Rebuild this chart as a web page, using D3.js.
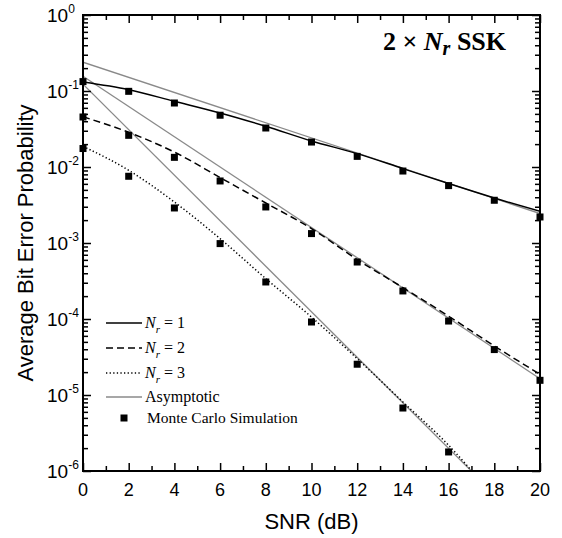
<!DOCTYPE html>
<html><head><meta charset="utf-8">
<script src="https://cdn.jsdelivr.net/npm/d3@7"></script>
<style>
html,body{margin:0;padding:0;background:#fff;}
svg{display:block;}
</style></head><body>
<script>
// SNR grid (dB) for the Monte Carlo points and the analytical curves
const snrMarks = [0, 2, 4, 6, 8, 10, 12, 14, 16, 18, 20];
const curveSnr = [0, 2, 4, 6, 8, 10, 12, 14, 16, 18, 20];
const asymSnr = [0, 20];

// Monte Carlo simulation results
const simNr1 = [0.133, 0.099, 0.0695, 0.048, 0.0326, 0.0213, 0.0138, 0.00885, 0.00569, 0.00365, 0.0022];
const simNr2 = [0.0455, 0.0261, 0.0134, 0.00655, 0.00298, 0.00133, 5.62e-4, 2.34e-4, 9.4e-5, 3.96e-5, 1.56e-5];
const simNr3 = [0.0175, 0.00755, 0.00289, 9.82e-4, 3.07e-4, 9.13e-5, 2.54e-5, 6.74e-6, 1.78e-6];

// Analytical bit error probability
const exactNr1 = [0.131, 0.104, 0.0732, 0.0514, 0.0343, 0.0220, 0.0150, 0.00953, 0.00605, 0.00391, 0.00261];
const exactNr2 = [0.0458, 0.0286, 0.0157, 0.00726, 0.00336, 0.00155, 6.05e-4, 2.59e-4, 1.09e-4, 4.42e-5, 1.87e-5];
const exactNr3 = [0.0187, 0.00905, 0.00346, 0.00114, 3.40e-4, 1.06e-4, 3.01e-5, 8.1e-6, 2.18e-6, 4.5e-7];

// High-SNR asymptotes (straight lines on the log scale)
const asymNr1 = [0.239, 0.00244];
const asymNr2 = [0.156, 1.64e-5];
const asymNr3 = [0.123, 1.26e-7];

// Axis ticks
const xMajor = [0, 2, 4, 6, 8, 10, 12, 14, 16, 18, 20];
const xMinor = [1, 3, 5, 7, 9, 11, 13, 15, 17, 19];
const yExponents = [0, -1, -2, -3, -4, -5, -6];

const legendLabels = ["1", "2", "3"];

const W = 562, H = 538;
const L = 83, R = 540, T = 15, B = 471;

const svg = d3.select("body").append("svg").attr("width", W).attr("height", H);

const x = d3.scaleLinear().domain([0, 20]).range([L, R]);
const y = d3.scaleLog().domain([1e-6, 1]).range([B, T]);

const yMinor = [];
yExponents.slice(0, -1).forEach(e => {
  for (let k = 2; k <= 9; k++) yMinor.push(k * Math.pow(10, e - 1));
});

svg.append("defs").append("clipPath").attr("id", "plotClip")
  .append("rect").attr("x", L).attr("y", T).attr("width", R - L).attr("height", B - T);

const plot = svg.append("g").attr("clip-path", "url(#plotClip)");

const line = d3.line().x(d => x(d[0])).y(d => y(d[1])).curve(d3.curveMonotoneX);
const straight = d3.line().x(d => x(d[0])).y(d => y(d[1]));

const gray = "#8a8a8a";
[asymNr1, asymNr2, asymNr3].forEach(a => {
  plot.append("path").attr("d", straight(asymSnr.map((s, i) => [s, a[i]])))
    .attr("fill", "none").attr("stroke", gray).attr("stroke-width", 1.3);
});

const styles = [null, "7,4", "1.3,2.3"];
[exactNr1, exactNr2, exactNr3].forEach((ser, j) => {
  plot.append("path").attr("d", line(ser.map((v, i) => [curveSnr[i], v])))
    .attr("fill", "none").attr("stroke", "#000").attr("stroke-width", 1.5)
    .attr("stroke-dasharray", styles[j]);
});

const sq = 7;
[simNr1, simNr2, simNr3].forEach(ser => {
  svg.append("g").selectAll("rect").data(ser).join("rect")
    .attr("x", (d, i) => x(snrMarks[i]) - sq / 2)
    .attr("y", d => y(d) - sq / 2)
    .attr("width", sq).attr("height", sq).attr("fill", "#000");
});

// Axes: frame with inward ticks on all four sides
const axes = svg.append("g");
function ticks(sel) { sel.select(".domain").remove(); sel.selectAll("text").remove(); sel.selectAll("line").attr("stroke", "#000").attr("stroke-width", 1.5); }
axes.append("g").attr("transform", `translate(0,${B})`).call(d3.axisBottom(x).tickValues(xMajor).tickSize(-8)).call(ticks);
axes.append("g").attr("transform", `translate(0,${B})`).call(d3.axisBottom(x).tickValues(xMinor).tickSize(-5)).call(ticks);
axes.append("g").attr("transform", `translate(0,${T})`).call(d3.axisTop(x).tickValues(xMajor).tickSize(-8)).call(ticks);
axes.append("g").attr("transform", `translate(0,${T})`).call(d3.axisTop(x).tickValues(xMinor).tickSize(-5)).call(ticks);
const yMajorVals = yExponents.map(e => Math.pow(10, e));
axes.append("g").attr("transform", `translate(${L},0)`).call(d3.axisLeft(y).tickValues(yMajorVals).tickSize(-8)).call(ticks);
axes.append("g").attr("transform", `translate(${L},0)`).call(d3.axisLeft(y).tickValues(yMinor).tickSize(-5)).call(ticks);
axes.append("g").attr("transform", `translate(${R},0)`).call(d3.axisRight(y).tickValues(yMajorVals).tickSize(-8)).call(ticks);
axes.append("g").attr("transform", `translate(${R},0)`).call(d3.axisRight(y).tickValues(yMinor).tickSize(-5)).call(ticks);
axes.append("rect").attr("x", L).attr("y", T).attr("width", R - L).attr("height", B - T)
  .attr("fill", "none").attr("stroke", "#000").attr("stroke-width", 2);

const sans = "'Liberation Sans', Arial, sans-serif";
const serif = "'Liberation Serif', 'Times New Roman', serif";

// x tick labels
svg.append("g").selectAll("text").data(xMajor).join("text")
  .attr("x", d => x(d)).attr("y", B + 25).attr("text-anchor", "middle")
  .attr("font-family", sans).attr("font-size", 18).text(d => d);

// y tick labels as powers of ten
const yl = svg.append("g").selectAll("text").data(yExponents).join("text")
  .attr("x", 47).attr("y", d => y(Math.pow(10, d)) + 7)
  .attr("font-family", sans).attr("font-size", 19);
yl.append("tspan").text("10");
yl.append("tspan").attr("font-size", 12).attr("dy", -9).text(d => d === 0 ? "0" : "-" + (-d));

svg.append("text").attr("x", (L + R) / 2).attr("y", 529).attr("text-anchor", "middle")
  .attr("font-family", sans).attr("font-size", 22).text("SNR (dB)");
svg.append("text").attr("transform", `translate(33,${(T + B) / 2}) rotate(-90)`)
  .attr("text-anchor", "middle").attr("font-family", sans).attr("font-size", 22)
  .text("Average Bit Error Probability");

// title
const title = svg.append("text").attr("x", 383).attr("y", 50)
  .attr("font-family", serif).attr("font-size", 26).attr("font-weight", "bold");
title.append("tspan").text("2 \u00d7 ");
title.append("tspan").attr("font-style", "italic").text("N");
title.append("tspan").attr("font-style", "italic").attr("font-size", 20).attr("dy", 5).text("r");
title.append("tspan").attr("dy", -5).text(" SSK");

// legend
const lg = svg.append("g");
const rowsY = [323, 348, 373, 397];
const lx0 = 106, lx1 = 142;
styles.forEach((s, i) => {
  lg.append("line").attr("x1", lx0).attr("x2", lx1).attr("y1", rowsY[i]).attr("y2", rowsY[i])
    .attr("stroke", "#000").attr("stroke-width", 1.5).attr("stroke-dasharray", s);
  const t = lg.append("text").attr("x", 145).attr("y", rowsY[i] + 5)
    .attr("font-family", serif).attr("font-size", 16);
  t.append("tspan").attr("font-style", "italic").text("N");
  t.append("tspan").attr("font-style", "italic").attr("font-size", 11).attr("dy", 5).text("r");
  t.append("tspan").attr("dy", -5).text(" = " + legendLabels[i]);
});
lg.append("line").attr("x1", lx0).attr("x2", lx1).attr("y1", rowsY[3]).attr("y2", rowsY[3])
  .attr("stroke", gray).attr("stroke-width", 1.3);
lg.append("text").attr("x", 145).attr("y", rowsY[3] + 5).attr("font-family", serif)
  .attr("font-size", 16).text("Asymptotic");
lg.append("rect").attr("x", 124 - sq / 2).attr("y", 418 - sq / 2).attr("width", sq).attr("height", sq).attr("fill", "#000");
lg.append("text").attr("x", 147).attr("y", 423).attr("font-family", serif)
  .attr("font-size", 15.5).text("Monte Carlo Simulation");
</script>
</body></html>
